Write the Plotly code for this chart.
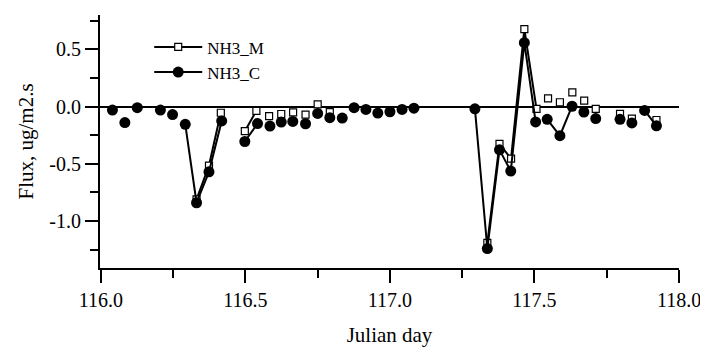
import plotly.graph_objects as go

# ---- data ----
day_C = [116.040, 116.083, 116.126, 116.206, 116.248, 116.292, 116.331, 116.374,
         116.418, 116.498, 116.542, 116.585, 116.624, 116.664, 116.708, 116.750,
         116.792, 116.835, 116.876, 116.917, 116.958, 117.000, 117.042, 117.083,
         117.294, 117.337, 117.379, 117.418, 117.465, 117.504, 117.544, 117.588,
         117.630, 117.671, 117.712, 117.796, 117.837, 117.881, 117.922]
flux_C = [-0.03, -0.14, -0.01, -0.03, -0.07, -0.155, -0.84, -0.57,
          -0.125, -0.305, -0.148, -0.17, -0.135, -0.13, -0.15, -0.06,
          -0.097, -0.10, -0.01, -0.025, -0.057, -0.045, -0.025, -0.014,
          -0.02, -1.24, -0.378, -0.563, 0.558, -0.134, -0.111, -0.254,
          0.003, -0.048, -0.105, -0.111, -0.143, -0.034, -0.168]
# index ranges (inclusive) joined by lines
runs_C = [(5, 8), (9, 10), (24, 29), (30, 32), (37, 38)]

day_M = [116.331, 116.374, 116.415, 116.498, 116.538, 116.582, 116.624, 116.665,
         116.708, 116.750, 116.792, 117.337, 117.379, 117.419, 117.465, 117.507,
         117.547, 117.588, 117.631, 117.672, 117.712, 117.796, 117.837, 117.922]
flux_M = [-0.81, -0.515, -0.054, -0.215, -0.037, -0.083, -0.065, -0.05,
          -0.07, 0.02, -0.048, -1.19, -0.326, -0.455, 0.676, -0.02,
          0.072, 0.038, 0.124, 0.052, -0.02, -0.063, -0.106, -0.117]
runs_M = [(0, 2), (3, 4), (11, 15)]

y_tickvals = [-1.0, -0.5, 0.0, 0.5]
y_ticktext = ["-1.0", "-0.5", "0.0", "0.5"]
x_tickvals = [116.0, 116.5, 117.0, 117.5, 118.0]
x_ticktext = ["116.0", "116.5", "117.0", "117.5", "118.0"]


def with_breaks(xs, ys, runs):
    joined = set()
    for a, b in runs:
        for i in range(a, b):
            joined.add(i)
    ox, oy = [], []
    for i, (xv, yv) in enumerate(zip(xs, ys)):
        ox.append(xv)
        oy.append(yv)
        if i < len(xs) - 1 and i not in joined:
            ox.append(None)
            oy.append(None)
    return ox, oy


FONT = "Liberation Serif"

xm, ym = with_breaks(day_M, flux_M, runs_M)
xc, yc = with_breaks(day_C, flux_C, runs_C)

fig = go.Figure()
fig.add_trace(go.Scatter(
    x=xm, y=ym, name="NH3_M", mode="lines+markers",
    line=dict(color="black", width=2),
    marker=dict(symbol="square", size=7, color="white",
                line=dict(color="black", width=1.2)),
    connectgaps=False,
))
fig.add_trace(go.Scatter(
    x=xc, y=yc, name="NH3_C", mode="lines+markers",
    line=dict(color="black", width=2),
    marker=dict(symbol="circle", size=11, color="black"),
    connectgaps=False,
))

# the page body adds an 8px offset; the figure is sized to fill the rest
fig.update_layout(
    width=700, height=342,
    margin=dict(l=92, r=26, t=7, b=79),
    paper_bgcolor="white", plot_bgcolor="white",
    font=dict(family=FONT, size=20, color="black"),
    showlegend=True,
    legend=dict(x=0.085, y=0.943, xanchor="left", yanchor="top",
                bgcolor="rgba(0,0,0,0)", font=dict(size=17, family=FONT),
                itemwidth=48, tracegroupgap=0),
    xaxis=dict(
        range=[115.997, 118.0],
        showline=True, linecolor="black", linewidth=2,
        ticks="outside", ticklen=13, tickwidth=2, tickcolor="black",
        tickvals=x_tickvals, ticktext=x_ticktext,
        minor=dict(ticks="outside", ticklen=8, tickwidth=2, tickcolor="black",
                   dtick=0.25, tick0=116.0),
        showgrid=False, zeroline=False,
        title=dict(text="Julian day", font=dict(size=21, family=FONT), standoff=17),
        tickfont=dict(size=20, family=FONT),
    ),
    yaxis=dict(
        range=[-1.41, 0.80],
        showline=True, linecolor="black", linewidth=2,
        ticks="outside", ticklen=13, tickwidth=2, tickcolor="black",
        tickvals=y_tickvals, ticktext=y_ticktext,
        minor=dict(ticks="outside", ticklen=8, tickwidth=2, tickcolor="black",
                   dtick=0.25, tick0=0.0),
        showgrid=False,
        zeroline=True, zerolinecolor="black", zerolinewidth=2,
        title=dict(text="Flux, ug/m2.s", font=dict(size=21, family=FONT), standoff=10),
        tickfont=dict(size=20, family=FONT),
    ),
)

fig.write_html("out.html")
